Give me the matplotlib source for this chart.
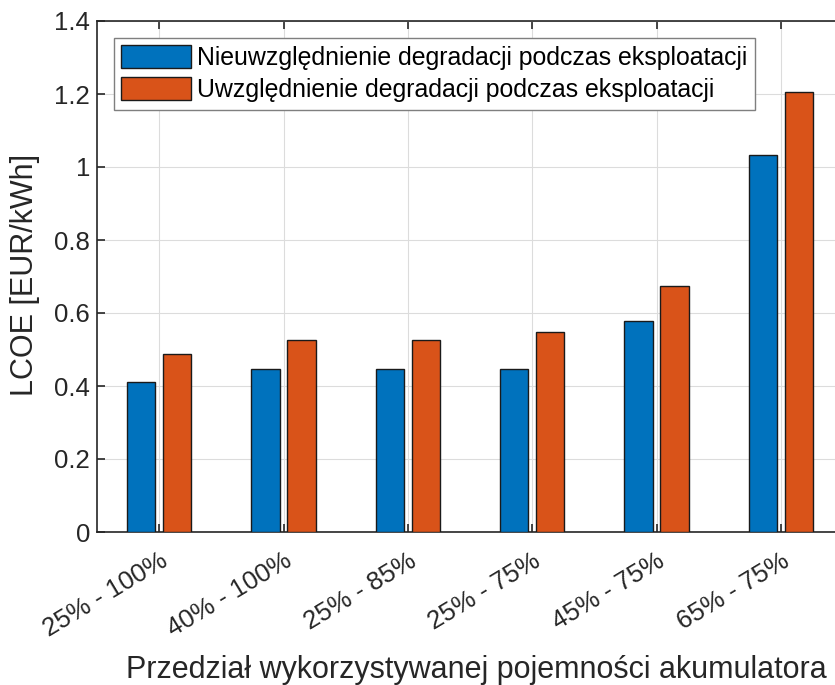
import matplotlib
matplotlib.use("Agg")
import matplotlib.pyplot as plt
import numpy as np

categories = ["25% - 100%", "40% - 100%", "25% - 85%", "25% - 75%", "45% - 75%", "65% - 75%"]
no_degradation = [0.410, 0.447, 0.447, 0.447, 0.579, 1.032]
with_degradation = [0.489, 0.527, 0.527, 0.547, 0.673, 1.205]
series_labels = ["Nieuwzględnienie degradacji podczas eksploatacji",
                 "Uwzględnienie degradacji podczas eksploatacji"]
yticks = [0, 0.2, 0.4, 0.6, 0.8, 1.0, 1.2, 1.4]
ytick_labels = ["0", "0.2", "0.4", "0.6", "0.8", "1", "1.2", "1.4"]

plt.rcParams['font.family'] = ['Liberation Sans', 'DejaVu Sans']
txt = '#262626'

fig = plt.figure(figsize=(8.35, 6.85), dpi=100)
ax = fig.add_axes([97/835, 153/685, 746/835, 511/685])

x = np.arange(1, len(categories) + 1)
w = 0.228
off = 0.145
ax.bar(x - off, no_degradation, w, color='#0072BD', edgecolor='#1a1a1a', linewidth=1.0,
       label=series_labels[0], zorder=3)
ax.bar(x + off, with_degradation, w, color='#D95319', edgecolor='#1a1a1a', linewidth=1.0,
       label=series_labels[1], zorder=3)

ax.set_xlim(0.5, 6.5)
ax.set_ylim(0, 1.4)
ax.set_yticks(yticks)
ax.set_yticklabels(ytick_labels)
ax.set_xticks(x)
ax.set_xticklabels(categories, rotation=31, ha='right', rotation_mode='anchor')

ax.grid(True, color='#dcdcdc', linewidth=0.8, zorder=0)
ax.set_axisbelow(True)
for s in ax.spines.values():
    s.set_color(txt)
    s.set_linewidth(1.2)
ax.tick_params(direction='in', length=6, width=1.2, colors=txt, labelsize=18.5,
               top=True, right=True)
ax.tick_params(axis='y', pad=5)
ax.tick_params(axis='x', pad=12)

ax.set_ylabel("LCOE [EUR/kWh]", fontsize=22, color=txt)
ax.yaxis.set_label_coords(-0.076, 0.503)
ax.set_xlabel("Przedział wykorzystywanej pojemności akumulatora", fontsize=22, color=txt)
ax.xaxis.set_label_coords(0.508, -0.24)

leg = ax.legend(loc='upper left', fontsize=17.9, frameon=True, fancybox=False,
                edgecolor='#7f7f7f', framealpha=1, handlelength=2.8, handleheight=1.0,
                handletextpad=0.25, borderaxespad=0.68, labelspacing=0.3, borderpad=0.3)
leg.get_frame().set_linewidth(1.0)
for t in leg.get_texts():
    t.set_color('#000000')

fig.savefig("out.png", dpi=100)
